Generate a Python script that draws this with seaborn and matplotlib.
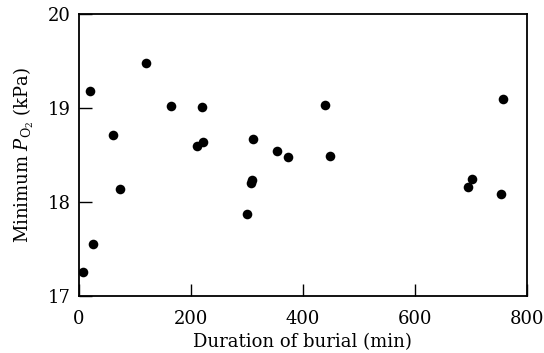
import matplotlib
matplotlib.use("Agg")
import matplotlib.pyplot as plt
import seaborn as sns
import pandas as pd

duration_min = [8, 20, 26, 61, 74, 121, 164, 212, 222, 221, 300, 308, 309, 311,
                355, 373, 440, 449, 696, 702, 754, 757]
min_po2_kpa = [17.26, 19.18, 17.55, 18.71, 18.14, 19.48, 19.02, 18.60, 18.64, 19.01,
               17.87, 18.20, 18.23, 18.67, 18.54, 18.48, 19.03, 18.49, 18.16, 18.24,
               18.09, 19.10]
x_ticks = [0, 200, 400, 600, 800]
y_ticks = [17, 18, 19, 20]

df = pd.DataFrame({"duration": duration_min, "po2": min_po2_kpa})

sns.set_theme(style="ticks")
plt.rcParams["font.family"] = ["DejaVu Serif"]
plt.rcParams["mathtext.fontset"] = "dejavuserif"
plt.rcParams["xtick.direction"] = "in"
plt.rcParams["ytick.direction"] = "in"

fig = plt.figure(figsize=(5.44, 3.53), dpi=100)
ax = fig.add_axes([0.1447, 0.1615, 0.968 - 0.1447, 0.9603 - 0.1615])

sns.scatterplot(data=df, x="duration", y="po2", ax=ax, s=48, color="black",
                edgecolor="black", linewidth=0)

ax.set_xlim(0, 800)
ax.set_ylim(17, 20)
ax.set_xticks(x_ticks)
ax.set_yticks(y_ticks)
ax.tick_params(axis="both", which="major", direction="in", length=9, width=1,
               colors="black", labelsize=13,
               top=False, right=False, bottom=True, left=True)
ax.tick_params(axis="x", pad=10)
ax.tick_params(axis="y", pad=6)
for sp in ax.spines.values():
    sp.set_visible(True)
    sp.set_color("black")
    sp.set_linewidth(1.3)
ax.set_xlabel("Duration of burial (min)", fontsize=13, color="black", labelpad=4)
ax.set_ylabel(r"Minimum $P_{\mathrm{O}_2}$ (kPa)", fontsize=13, color="black", labelpad=8)

fig.savefig("out.png", dpi=100, facecolor="white")
